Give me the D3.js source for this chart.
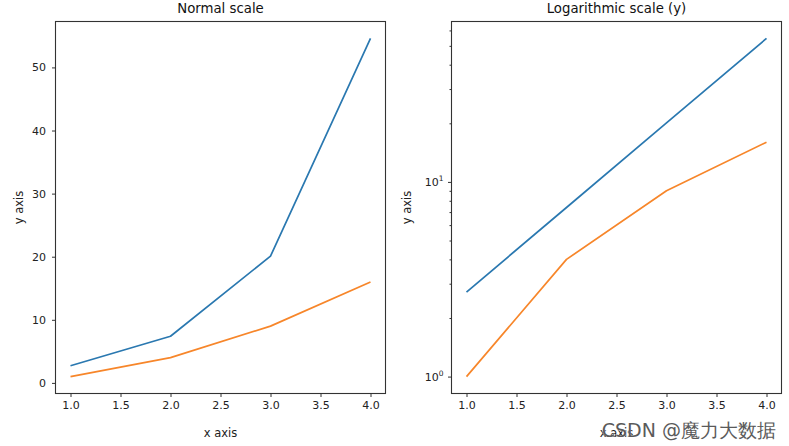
<!DOCTYPE html>
<html><head><meta charset="utf-8">
<script src="https://cdn.jsdelivr.net/npm/d3@7"></script>
<style>body{margin:0;background:#fff}svg{display:block}text{font-family:"DejaVu Sans",sans-serif}</style>
</head><body>
<svg id="c" width="789" height="446"></svg>
<script>
const xs = [1, 2, 3, 4];
const expVals = [2.718, 7.389, 20.086, 54.598];
const sqVals = [1, 4, 9, 16];
const xTicks = [1.0, 1.5, 2.0, 2.5, 3.0, 3.5, 4.0];
const linTicks = [0, 10, 20, 30, 40, 50];
const logMajor = [1, 10];
const logMinor = [2,3,4,5,6,7,8,9,20,30,40,50,60];
const titles = ["Normal scale", "Logarithmic scale (y)"];
const colors = ["#2a78b0", "#f7862a"];

const svg = d3.select("#c");
const panels = [
  {x0: 55.5, x1: 385.5, type: "lin"},
  {x0: 451.5, x1: 781.5, type: "log"}
];
const plotTop = 21.5, plotBot = 393.5;
const tickFont = 11;

panels.forEach((p, i) => {
  const x = d3.scaleLinear().domain([0.85, 4.15]).range([p.x0, p.x1]);
  let y;
  if (p.type === "lin") {
    const lo = 1 - 53.598*0.05, hi = 54.598 + 53.598*0.05;
    y = d3.scaleLinear().domain([lo, hi]).range([plotBot, plotTop]);
  } else {
    const r = Math.log10(54.598);
    y = d3.scaleLog().domain([Math.pow(10, -r*0.05), Math.pow(10, r*1.05)]).range([plotBot, plotTop]);
  }
  const g = svg.append("g");
  const line = d3.line().x((d, k) => x(xs[k])).y(d => y(d));
  [expVals, sqVals].forEach((vals, k) => {
    g.append("path").datum(vals).attr("d", line).attr("fill", "none")
      .attr("stroke", colors[k]).attr("stroke-width", 1.7).attr("stroke-linejoin", "round");
  });
  g.append("rect").attr("x", p.x0).attr("y", plotTop).attr("width", p.x1 - p.x0).attr("height", plotBot - plotTop)
    .attr("fill", "none").attr("stroke", "#333").attr("stroke-width", 1.1);
  const xa = g.append("g").attr("transform", `translate(0,${plotBot})`)
    .call(d3.axisBottom(x).tickValues(xTicks).tickFormat(d3.format(".1f")).tickSize(3.5).tickPadding(4));
  xa.select(".domain").remove();
  xa.selectAll("line").attr("stroke", "#333");
  xa.selectAll("text").attr("font-size", tickFont).attr("fill", "#222").attr("font-family", "DejaVu Sans");
  if (p.type === "lin") {
    const ya = g.append("g").attr("transform", `translate(${p.x0},0)`)
      .call(d3.axisLeft(y).tickValues(linTicks).tickFormat(d3.format("d")).tickSize(3.5).tickPadding(6));
    ya.select(".domain").remove();
    ya.selectAll("line").attr("stroke", "#333");
    ya.selectAll("text").attr("font-size", tickFont).attr("fill", "#222").attr("font-family", "DejaVu Sans");
  } else {
    const ya = g.append("g").attr("transform", `translate(${p.x0},0)`)
      .call(d3.axisLeft(y).tickValues(logMajor).tickFormat("").tickSize(3.5));
    ya.select(".domain").remove();
    ya.selectAll("line").attr("stroke", "#333");
    ya.selectAll(".tick").each(function(d) {
      const t = d3.select(this).append("text").attr("x", -8).attr("dy", "0.32em")
        .attr("text-anchor", "end").attr("font-size", tickFont).attr("fill", "#222").attr("font-family", "DejaVu Sans");
      t.append("tspan").text("10");
      t.append("tspan").attr("font-size", 7.5).attr("dy", "-0.6em").text(Math.round(Math.log10(d)));
    });
    const yb = g.append("g").attr("transform", `translate(${p.x0},0)`)
      .call(d3.axisLeft(y).tickValues(logMinor).tickFormat("").tickSize(2));
    yb.select(".domain").remove();
    yb.selectAll("line").attr("stroke", "#333");
  }
  g.append("text").attr("x", (p.x0 + p.x1) / 2).attr("y", 13).attr("text-anchor", "middle")
    .attr("font-size", 13.3).attr("fill", "#111").text(titles[i]);
  g.append("text").attr("x", (p.x0 + p.x1) / 2).attr("y", 437).attr("text-anchor", "middle")
    .attr("font-size", 11.5).attr("fill", "#222").text("x axis");
  const ylx = p.type === "lin" ? 23 : 411;
  g.append("text").attr("transform", `translate(${ylx},${(plotTop + plotBot) / 2}) rotate(-90)`)
    .attr("text-anchor", "middle").attr("font-size", 11.5).attr("fill", "#222").text("y axis");
});

svg.append("text").attr("x", 776).attr("y", 437).attr("text-anchor", "end")
  .attr("font-family", "'Noto Sans CJK SC', sans-serif").attr("font-size", 19)
  .attr("fill", "#5a5a5a").attr("stroke", "#fff").attr("stroke-width", 0.6).attr("paint-order", "stroke")
  .text("CSDN @魔力大数据");
</script>
</body></html>
